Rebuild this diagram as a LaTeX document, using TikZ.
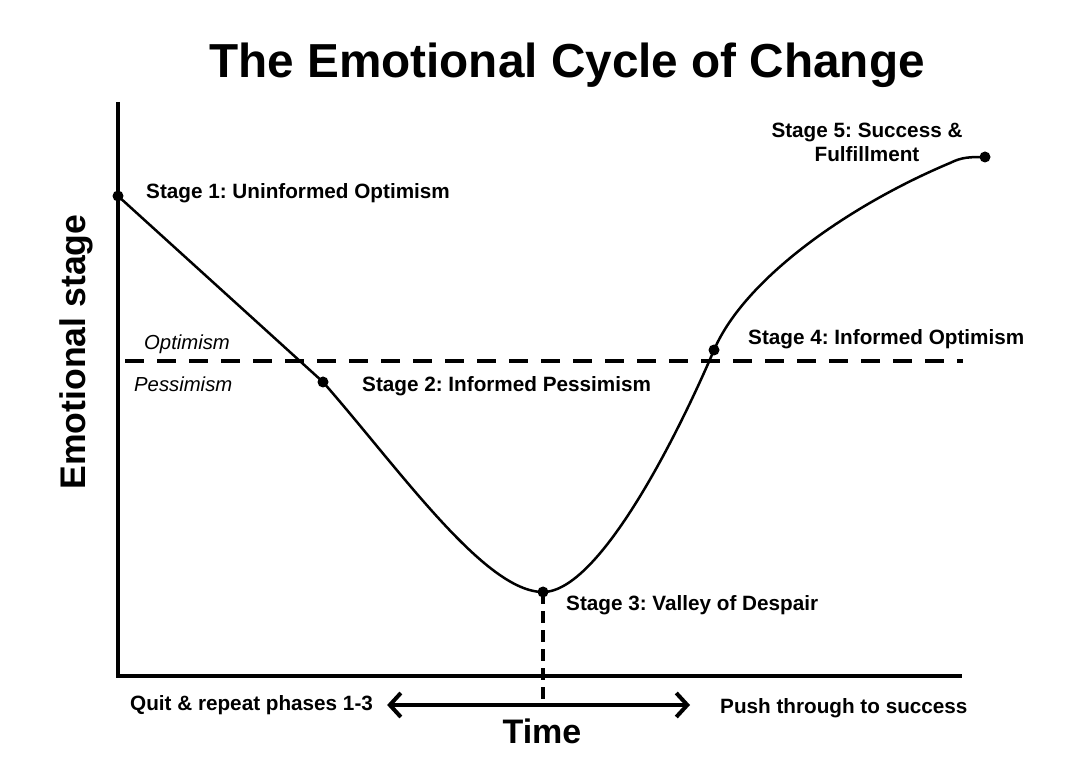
\documentclass[tikz,border=0pt]{standalone}
\usepackage{fontspec}
\setmainfont{Liberation Sans}
\frenchspacing
\usetikzlibrary{arrows.meta}

\tikzset{
  stagelbl/.style={anchor=base west, inner sep=0pt, font=\bfseries\fontsize{20.7}{24}\selectfont},
  zonelbl/.style={anchor=base west, inner sep=0pt, font=\itshape\fontsize{20.3}{24}\selectfont},
  axisline/.style={line width=4pt, line join=miter},
  curveline/.style={line width=2.5pt},
  splitline/.style={line width=4pt, dash pattern=on 19pt off 13pt},
  dropline/.style={line width=3.5pt, dash pattern=on 12pt off 7pt},
  timearrow/.style={line width=4pt, {Straight Barb[length=11pt, width=24pt]}-{Straight Barb[length=11pt, width=24pt]}}
}

\begin{document}
\begin{tikzpicture}[x=1pt, y=-1pt]
  \useasboundingbox (0,0) rectangle (1080,775);

  % title and axis labels
  \node[anchor=base, inner sep=0pt, font=\bfseries\fontsize{47.7}{52}\selectfont] (title) at (567,78) {The Emotional Cycle of Change};
  \node[rotate=90, anchor=base, inner sep=0pt, font=\bfseries\fontsize{35.6}{40}\selectfont] (ylbl) at (85,352) {Emotional stage};
  \node[anchor=base, inner sep=0pt, font=\bfseries\fontsize{34}{38}\selectfont] (xlbl) at (542,743) {Time};

  % axes
  \coordinate (ytop) at (118,102);
  \coordinate (origin) at (118,676);
  \coordinate (xend) at (962,676);
  \draw[axisline] (ytop) -- (origin) -- (xend);

  % optimism / pessimism split
  \coordinate (splitL) at (125,361);
  \coordinate (splitR) at (963,361);
  \draw[splitline] (splitL) -- (splitR);
  \node[zonelbl] (opt) at (144,350) {Optimism};
  \node[zonelbl] (pess) at (134,392) {Pessimism};

  % stages
  \coordinate (s1) at (118,196);
  \coordinate (s2) at (323,382);
  \coordinate (s3) at (543,592);
  \coordinate (s4) at (714,350);
  \coordinate (knee) at (950,163);
  \coordinate (s5) at (985,157);

  \draw[curveline] (s1) -- (s2)
    .. controls (400,470) and (485,592) .. (s3)
    .. controls (600,592) and (680,430) .. (s4)
    .. controls (745,278) and (850,205) .. (knee)
    .. controls (962,157) and (970,157) .. (s5);

  \foreach \s in {s1,s2,s3,s4,s5}
    \fill (\s) circle (5.5);

  \node[stagelbl] (l1) at (146,199) {Stage 1: Uninformed Optimism};
  \node[stagelbl] (l2) at (362,392) {Stage 2: Informed Pessimism};
  \node[stagelbl] (l3) at (566,610) {Stage 3: Valley of Despair};
  \node[stagelbl] (l4) at (748,345) {Stage 4: Informed Optimism};
  \node[stagelbl, anchor=base, align=center] (l5) at (867,162) {Stage 5: Success \&\\Fulfillment};

  % time direction
  \node[stagelbl] (quit) at (130,710) {Quit \& repeat phases 1-3};
  \node[stagelbl] (push) at (720,713) {Push through to success};
  \draw[timearrow] ([xshift=14pt]quit.east |- 0,705) -- ([xshift=-30pt]push.west |- 0,705);
  \coordinate (tmid) at (543,705);
  \draw[dropline] (s3) -- (tmid);
\end{tikzpicture}
\end{document}
